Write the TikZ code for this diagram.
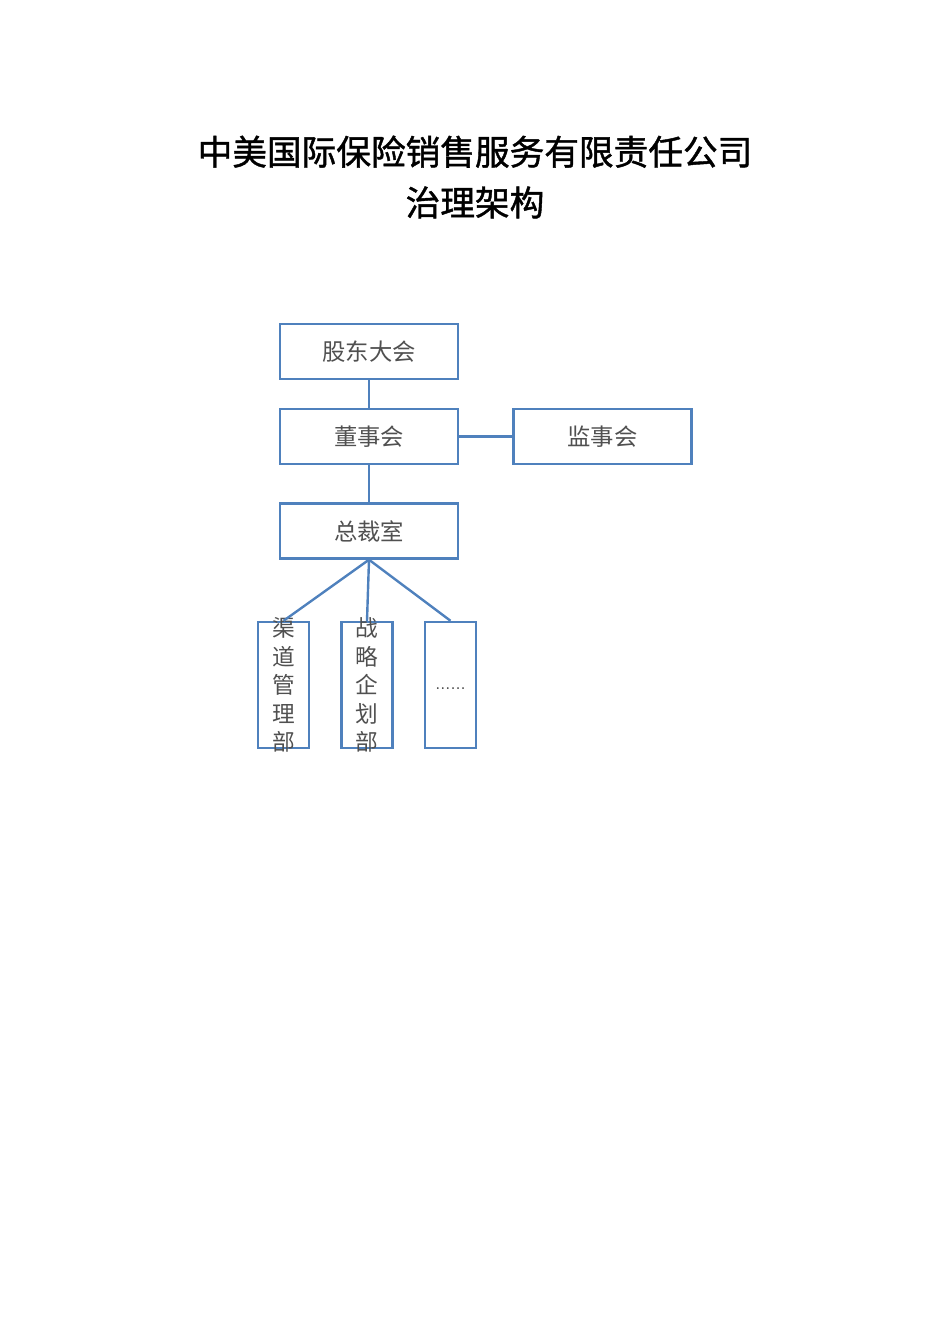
\documentclass[tikz,border=0pt]{standalone}
\usepackage{fontspec}
\usepackage{tikz}
\usetikzlibrary{positioning}
\newfontfamily\cjk{Noto Sans CJK SC}
\newfontfamily\cjktitle[FakeBold=1.2]{Noto Sans CJK SC}
\definecolor{orgline}{HTML}{4F81BD}
\definecolor{orgtext}{HTML}{505050}

\begin{document}
\begin{tikzpicture}[x=0.75pt,y=-0.75pt]
  % some styles
  \tikzset{
    box/.style={
      rectangle,
      minimum width=178*0.75pt,
      minimum height=55*0.75pt,
      inner sep=0mm,
      draw=orgline,
      line width=1.8pt,
      text=orgtext,
      font=\cjk\fontsize{17.5}{20}\selectfont
    }
  }
  \tikzset{deptbox/.style={rectangle,minimum width=51*0.75pt,minimum height=126*0.75pt,inner sep=0mm,draw=orgline,line width=1.8pt}}
  \tikzset{depttext/.style={align=center,inner sep=0mm,text=orgtext,font=\cjk\fontsize{17}{21.4}\selectfont}}
  \tikzset{link/.style={draw=orgline,line width=1.8pt}}

\useasboundingbox (0,0) rectangle (950,1344);

% title
\node[font=\cjktitle\fontsize{26}{38}\selectfont,align=center] (title) at (475,177) {中美国际保险销售服务有限责任公司\\治理架构};

\node[box] (gudong) at (369,351.5) {股东大会};
\node[box] (dongshi) at (369,436.5) {董事会};
\node[box] (jianshi) at (602.5,436.5) {监事会};
\node[box] (zongcai) at (369,531) {总裁室};

\node[deptbox] (qudao) at (283.5,685) {};
\node[deptbox] (zhanlue) at (367,685) {};
\node[deptbox] (more) at (450.5,685) {};
\node[depttext] (qudaotext) at (qudao) {渠\\道\\管\\理\\部};
\node[depttext] (zhanluetext) at (zhanlue) {战\\略\\企\\划\\部};
\node[depttext,font=\fontsize{14}{16}\selectfont,text=black!80] (moretext) at ([yshift=-3pt]more.center) {......};

\draw[link] (gudong) -- (dongshi);
\draw[link] (dongshi) -- (jianshi);
\draw[link] (dongshi) -- (zongcai);
\foreach \d in {qudao,zhanlue,more}
  \draw[link] (zongcai.south) -- (\d.north);

\end{tikzpicture}
\end{document}
